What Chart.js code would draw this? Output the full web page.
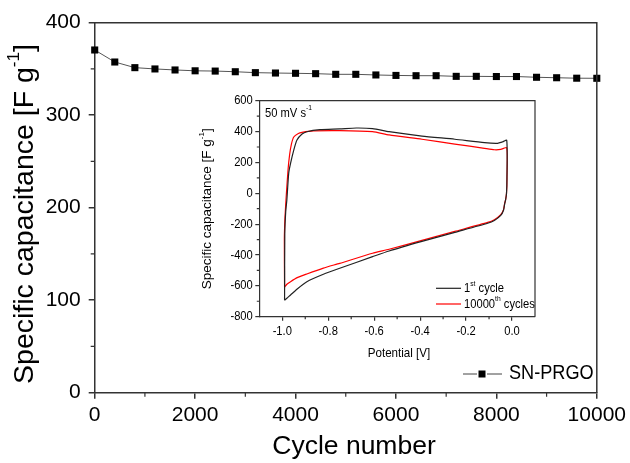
<!DOCTYPE html>
<html>
<head>
<meta charset="utf-8">
<script src="https://cdn.jsdelivr.net/npm/chart.js@4.4.1/dist/chart.umd.min.js"></script>
<style>
  html,body{margin:0;padding:0;background:#fff;}
  #wrap{position:relative;width:630px;height:463px;}
  #main{position:absolute;left:0;top:0;}
  #inset{position:absolute;left:195px;top:88px;}
</style>
</head>
<body>
<div id="wrap">
  <canvas id="main" width="630" height="463"></canvas>
  <canvas id="inset" width="345" height="280"></canvas>
</div>
<script>
const FONT = "'Liberation Sans', Arial, sans-serif";
const SQUEEZE = 0.86; // inset text is set condensed in the original

// cycling stability
const cycleNumbers = [0,400,800,1200,1600,2000,2400,2800,3200,3600,4000,4400,4800,5200,5600,6000,6400,6800,7200,7600,8000,8400,8800,9200,9600,10000];
const capacitance = [370.5,357.5,351.4,350,348.9,348,347.7,347,346,345.6,345.3,344.9,344.2,344.2,343.5,343,342.7,342.7,342,342,341.8,341.8,341,340.5,340,339.9];
const mainXTicks = [0,2000,4000,6000,8000,10000];
const mainYTicks = [0,100,200,300,400];

// inset CV curves (potential V, capacitance F/g)
const cv1Potential = [-0.990,-0.989,-0.985,-0.980,-0.972,-0.964,-0.950,-0.936,-0.914,-0.893,-0.836,-0.750,-0.678,-0.607,-0.535,-0.392,-0.249,-0.120,-0.063,-0.043,-0.023,-0.022,-0.024,-0.028,-0.032,-0.037,-0.049,-0.077,-0.106,-0.249,-0.392,-0.535,-0.607,-0.750,-0.821,-0.893,-0.935,-0.964,-0.980,-0.990];
const cv1Cap = [-694,-260,-120,-43,130,194,280,345,384,399,412,417,423,419,399,371,350,328,324,332,343,100,0,-43,-68,-110,-143,-176,-194,-253,-312,-374,-411,-486,-525,-573,-620,-659,-680,-694];
const cv2Potential = [-0.990,-0.991,-0.988,-0.982,-0.975,-0.968,-0.960,-0.950,-0.930,-0.914,-0.864,-0.750,-0.607,-0.535,-0.392,-0.249,-0.120,-0.077,-0.049,-0.023,-0.022,-0.024,-0.028,-0.032,-0.037,-0.049,-0.077,-0.106,-0.249,-0.392,-0.535,-0.607,-0.750,-0.821,-0.893,-0.935,-0.964,-0.980,-0.990];
const cv2Cap = [-609,-300,-150,0,150,250,320,365,388,395,404,406,399,378,350,319,291,282,284,295,100,0,-43,-65,-106,-139,-171,-189,-247,-305,-363,-389,-454,-485,-523,-547,-573,-590,-609];
const insetXTicks = [-1.0,-0.8,-0.6,-0.4,-0.2,0.0];
const insetYTicks = [-800,-600,-400,-200,0,200,400,600];

const AXIS = '#333';

// text with superscript parts: [[text, isSup], ...]
function drawRich(ctx, parts, x, y, size, opt){
  opt = opt || {};
  ctx.save();
  ctx.translate(x, y);
  if (opt.rot) ctx.rotate(opt.rot);
  if (opt.sx) ctx.scale(opt.sx, 1);
  ctx.fillStyle = opt.color || '#000';
  ctx.textBaseline = 'middle';
  ctx.textAlign = 'left';
  let w = 0;
  parts.forEach(p => { ctx.font = (p[1] ? size*0.6 : size) + 'px ' + FONT; w += ctx.measureText(p[0]).width; });
  let cx = opt.align === 'left' ? 0 : opt.align === 'right' ? -w : -w/2;
  parts.forEach(p => {
    ctx.font = (p[1] ? size*0.6 : size) + 'px ' + FONT;
    ctx.fillText(p[0], cx, p[1] ? -size*0.38 : 0);
    cx += ctx.measureText(p[0]).width;
  });
  ctx.restore();
}

function minorTicks(ctx, chart, xs, ys, len){
  const a = chart.chartArea, sx = chart.scales.x, sy = chart.scales.y;
  ctx.save();
  ctx.strokeStyle = AXIS; ctx.lineWidth = 1.2;
  ctx.beginPath();
  xs.forEach(v => { const px = sx.getPixelForValue(v); ctx.moveTo(px, a.bottom); ctx.lineTo(px, a.bottom + len); });
  ys.forEach(v => { const py = sy.getPixelForValue(v); ctx.moveTo(a.left, py); ctx.lineTo(a.left - len, py); });
  ctx.stroke();
  ctx.restore();
}

function boxLines(ctx, a, w){
  ctx.save();
  ctx.strokeStyle = AXIS; ctx.lineWidth = w;
  ctx.beginPath();
  ctx.moveTo(a.left, a.top); ctx.lineTo(a.right, a.top); ctx.lineTo(a.right, a.bottom);
  ctx.stroke();
  ctx.restore();
}

const mainDecor = {
  id: 'mainDecor',
  afterDraw(chart){
    const ctx = chart.ctx, a = chart.chartArea;
    boxLines(ctx, a, 1.5);
    minorTicks(ctx, chart, [1000,3000,5000,7000,9000], [50,150,250,350], 4);
    drawRich(ctx, [['Specific capacitance [F g',0],['-1',1],[']',0]], 25, 214, 28.5, {rot: -Math.PI/2});
    drawRich(ctx, [['Cycle number',0]], 354, 447, 26.5);
    // legend
    const ly = 374;
    ctx.save();
    ctx.strokeStyle = '#444'; ctx.lineWidth = 1;
    ctx.beginPath(); ctx.moveTo(463, ly); ctx.lineTo(477, ly); ctx.moveTo(487, ly); ctx.lineTo(502, ly); ctx.stroke();
    ctx.fillStyle = '#000'; ctx.fillRect(478.5, ly - 3.5, 7, 7);
    ctx.restore();
    drawRich(ctx, [['SN-PRGO',0]], 509, ly, 19.5, {align: 'left', sx: 0.93});
  }
};

new Chart(document.getElementById('main'), {
  type: 'scatter',
  data: {
    datasets: [{
      label: 'SN-PRGO',
      data: cycleNumbers.map((c, i) => ({x: c, y: capacitance[i]})),
      showLine: true,
      borderColor: '#555',
      borderWidth: 1,
      pointStyle: 'rect',
      pointRadius: 5,
      pointBackgroundColor: '#000',
      pointBorderColor: '#000',
      pointBorderWidth: 0,
      clip: false
    }]
  },
  options: {
    responsive: false,
    animation: false,
    events: [],
    layout: {padding: {left: 0, top: 22.7, right: 30.7, bottom: 0}},
    plugins: {legend: {display: false}, tooltip: {enabled: false}},
    scales: {
      x: {
        type: 'linear', min: 0, max: 10000,
        afterBuildTicks: s => { s.ticks = mainXTicks.map(v => ({value: v})); },
        afterFit: s => { s.height = 463 - 392.7; },
        ticks: {font: {size: 21, family: FONT}, color: '#000', padding: 4, maxRotation: 0, callback: v => String(v)},
        grid: {drawOnChartArea: false, tickLength: 6, color: AXIS, lineWidth: 1.5},
        border: {color: AXIS, width: 1.5}
      },
      y: {
        type: 'linear', min: 0, max: 400,
        afterBuildTicks: s => { s.ticks = mainYTicks.map(v => ({value: v})); },
        afterFit: s => { s.width = 94.7; },
        ticks: {font: {size: 21, family: FONT}, color: '#000', padding: 8, callback: v => String(v)},
        grid: {drawOnChartArea: false, tickLength: 6, color: AXIS, lineWidth: 1.5},
        border: {color: AXIS, width: 1.5}
      }
    }
  },
  plugins: [mainDecor]
});

const insetDecor = {
  id: 'insetDecor',
  beforeDraw(chart){
    const ctx = chart.ctx, a = chart.chartArea;
    ctx.save(); ctx.fillStyle = '#fff'; ctx.fillRect(a.left, a.top, a.right - a.left, a.bottom - a.top); ctx.restore();
  },
  afterDraw(chart){
    const ctx = chart.ctx, a = chart.chartArea;
    const sx = chart.scales.x, sy = chart.scales.y;
    boxLines(ctx, a, 1.2);
    minorTicks(ctx, chart, [-0.9,-0.7,-0.5,-0.3,-0.1], [-700,-500,-300,-100,100,300,500], 2.5);
    // tick labels, condensed
    insetXTicks.forEach(v => drawRich(ctx, [[v.toFixed(1),0]], sx.getPixelForValue(v), a.bottom + 15, 13, {sx: SQUEEZE}));
    insetYTicks.forEach(v => drawRich(ctx, [[String(v),0]], a.left - 6.5, sy.getPixelForValue(v), 13, {sx: SQUEEZE, align: 'right'}));
    drawRich(ctx, [['Specific capacitance [F g',0],['-1',1],[']',0]], 12, (a.top + a.bottom)/2, 13.5, {rot: -Math.PI/2});
    drawRich(ctx, [['Potential [V]',0]], 204, 265, 13.5, {sx: SQUEEZE});
    drawRich(ctx, [['50 mV s',0],['-1',1]], 70, 25, 13, {align: 'left', sx: SQUEEZE});
    ctx.save();
    ctx.lineWidth = 1.2;
    ctx.strokeStyle = '#222'; ctx.beginPath(); ctx.moveTo(241, 200.3); ctx.lineTo(266, 200.3); ctx.stroke();
    ctx.strokeStyle = '#ff0000'; ctx.beginPath(); ctx.moveTo(241, 216); ctx.lineTo(266, 216); ctx.stroke();
    ctx.restore();
    drawRich(ctx, [['1',0],['st',1],[' cycle',0]], 269, 200.3, 13, {align: 'left', sx: SQUEEZE});
    drawRich(ctx, [['10000',0],['th',1],[' cycles',0]], 269, 216, 13, {align: 'left', sx: SQUEEZE});
  }
};

new Chart(document.getElementById('inset'), {
  type: 'scatter',
  data: {
    datasets: [
      {label: '1st cycle', data: cv1Potential.map((v, i) => ({x: v, y: cv1Cap[i]})), showLine: true, borderColor: '#222', borderWidth: 1.2, pointRadius: 0, tension: 0.2},
      {label: '10000th cycles', data: cv2Potential.map((v, i) => ({x: v, y: cv2Cap[i]})), showLine: true, borderColor: '#ff0000', borderWidth: 1.2, pointRadius: 0, tension: 0.2}
    ]
  },
  options: {
    responsive: false,
    animation: false,
    events: [],
    layout: {padding: {left: 0, top: 12.7, right: 5, bottom: 0}},
    plugins: {legend: {display: false}, tooltip: {enabled: false}},
    scales: {
      x: {
        type: 'linear', min: -1.1, max: 0.1,
        afterBuildTicks: s => { s.ticks = insetXTicks.map(v => ({value: v})); },
        afterFit: s => { s.height = 280 - 228.7; },
        ticks: {display: false},
        grid: {drawOnChartArea: false, tickLength: 4, color: AXIS, lineWidth: 1.2},
        border: {color: AXIS, width: 1.2}
      },
      y: {
        type: 'linear', min: -800, max: 600,
        afterBuildTicks: s => { s.ticks = insetYTicks.map(v => ({value: v})); },
        afterFit: s => { s.width = 64.3; },
        ticks: {display: false},
        grid: {drawOnChartArea: false, tickLength: 4, color: AXIS, lineWidth: 1.2},
        border: {color: AXIS, width: 1.2}
      }
    }
  },
  plugins: [insetDecor]
});
</script>
</body>
</html>
